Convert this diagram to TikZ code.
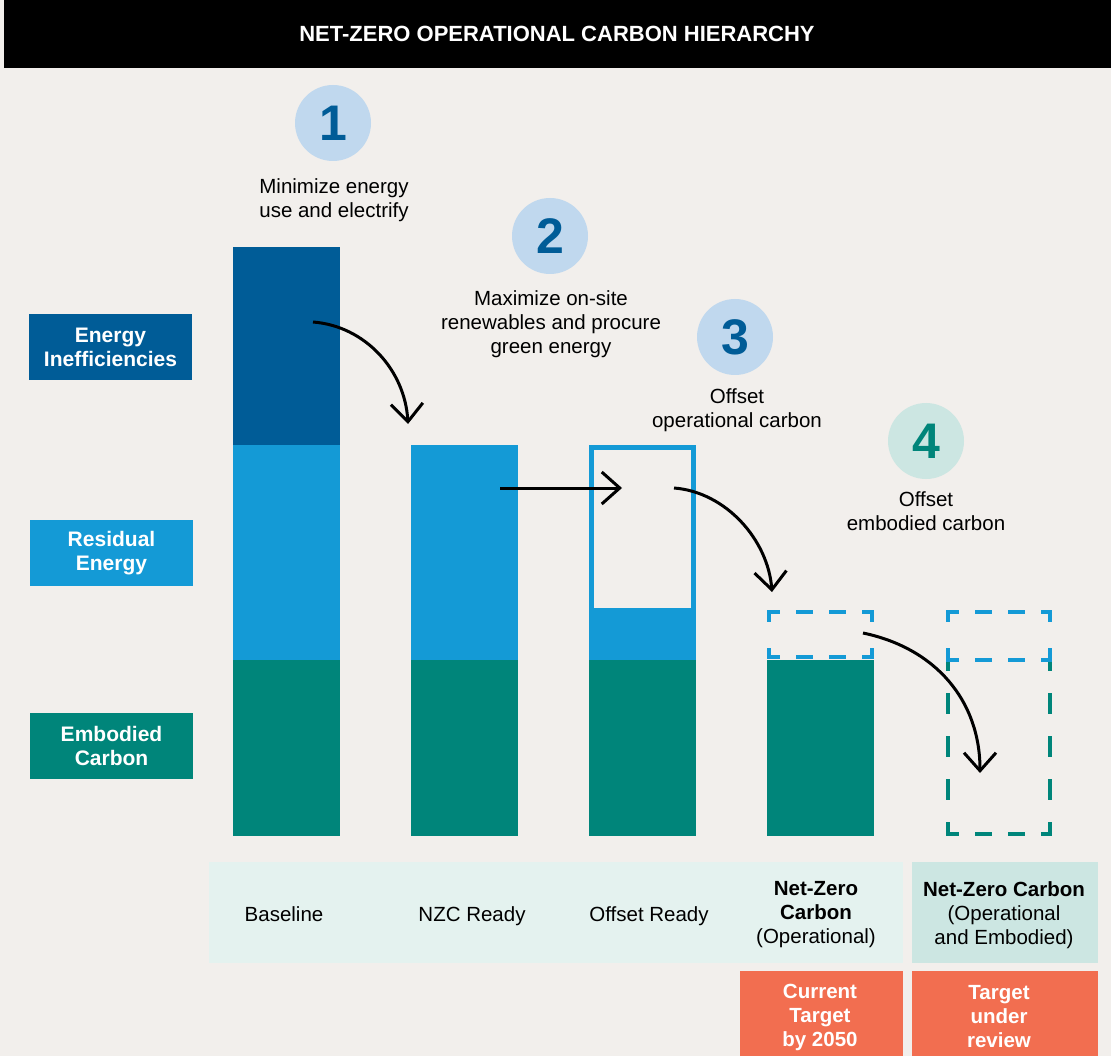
\documentclass[tikz,border=0pt]{standalone}
\usepackage{fontspec}
\setmainfont{Liberation Sans}
\usepackage{xcolor}
\usepackage{tikz}
\usetikzlibrary{arrows.meta}
\definecolor{bgcream}{RGB}{242,239,236}
\definecolor{inefblue}{RGB}{0,92,151}
\definecolor{residblue}{RGB}{20,154,214}
\definecolor{embgreen}{RGB}{0,133,122}
\definecolor{circblue}{RGB}{192,216,238}
\definecolor{circteal}{RGB}{204,230,226}
\definecolor{bandpale}{RGB}{228,242,239}
\definecolor{bandteal}{RGB}{204,230,226}
\definecolor{targetorange}{RGB}{242,110,80}

\begin{document}
\begin{tikzpicture}[x=1pt,y=-1pt]
			
			\tikzstyle{legendbox} = [minimum width=163pt,minimum height=66pt,inner sep=0pt,text=white,align=center,font=\fontsize{21}{24}\selectfont\bfseries]
			\tikzstyle{stepcircle} = [circle,minimum size=76pt,inner sep=0pt,font=\fontsize{50}{50}\selectfont\bfseries]
			\tikzstyle{steptext} = [align=center,inner sep=0pt,font=\fontsize{20.5}{24}\selectfont]
			\tikzstyle{bandlabel} = [align=center,inner sep=0pt,font=\fontsize{20.5}{24}\selectfont]
			\tikzstyle{targetlabel} = [align=center,inner sep=0pt,text=white,font=\fontsize{20.5}{24}\selectfont\bfseries]
			\tikzstyle{dashside} = [line width=4pt,line cap=rect,dash pattern=on 13pt off 20pt,dash phase=4pt]
			\tikzstyle{dashshort} = [line width=4pt,line cap=rect,dash pattern=on 8pt off 30pt]
			\tikzstyle{dashtall} = [line width=4pt,line cap=rect,dash pattern=on 17pt off 26pt,dash phase=7pt]
			\tikzstyle{flowarrow} = [line width=3pt,-{Straight Barb[length=18pt,width=32pt]}]
			
			\useasboundingbox (0,0) rectangle (1111,1056);
			\fill[bgcream] (0,0) rectangle (1111,1056);
			
			% header
			\fill[black] (4,0) rectangle (1111,68);
			\node[text=white,font=\fontsize{22}{24}\selectfont\bfseries] (title) at (557,34) {NET-ZERO OPERATIONAL CARBON HIERARCHY};
			
			% legend
			\node[legendbox,fill=inefblue] (ineff) at (110.5,347) {Energy\\Inefficiencies};
			\node[legendbox,fill=residblue] (resid) at (111.5,553) {Residual\\Energy};
			\node[legendbox,fill=embgreen] (embod) at (111.5,746) {Embodied\\Carbon};
			
			% bars
			\fill[inefblue] (233,247) rectangle (340,445);
			\fill[residblue] (233,445) rectangle (340,660);
			\fill[embgreen] (233,660) rectangle (340,836);
			
			\fill[residblue] (411,445) rectangle (518,660);
			\fill[embgreen] (411,660) rectangle (518,836);
			
			\fill[residblue] (589,445) rectangle (696,660);
			\fill[bgcream] (594,450) rectangle (691,608);
			\fill[embgreen] (589,660) rectangle (696,836);
			
			\fill[embgreen] (767,660) rectangle (874,836);
			\draw[dashside,residblue] (769,612) -- (872,612);
			\draw[dashside,residblue] (769,657) -- (872,657);
			\draw[dashshort,residblue] (769,612) -- (769,657);
			\draw[dashshort,residblue] (872,612) -- (872,657);
			
			% dashed target bar
			\draw[dashtall,embgreen] (948,834) -- (948,662);
			\draw[dashtall,embgreen] (1050,834) -- (1050,662);
			\draw[dashside,embgreen] (948,834) -- (1050,834);
			\draw[dashside,residblue] (948,612) -- (1050,612);
			\draw[dashside,residblue] (948,660) -- (1050,660);
			\draw[dashshort,residblue] (948,612) -- (948,660);
			\draw[dashshort,residblue] (1050,612) -- (1050,660);
			
			% steps
			\node[stepcircle,fill=circblue,text=inefblue] (c1) at (333,123) {1};
			\node[steptext] (t1) at (334,200) {Minimize energy\\use and electrify};
			
			\node[stepcircle,fill=circblue,text=inefblue] (c2) at (550,236) {2};
			\node[steptext] (t2) at (551,324) {Maximize on-site\\renewables and procure\\green energy};
			
			\node[stepcircle,fill=circblue,text=inefblue] (c3) at (735,337) {3};
			\node[steptext] (t3) at (737,410) {Offset\\operational carbon};
			
			\node[stepcircle,fill=circteal,text=embgreen] (c4) at (926,441) {4};
			\node[steptext] (t4) at (926,511) {Offset\\embodied carbon};
			
			% arrows
			\coordinate (a1s) at (313,322);
			\coordinate (a1e) at (408,424);
			\coordinate (a2s) at (500,488);
			\coordinate (a2e) at (622,488);
			\coordinate (a3s) at (674,488);
			\coordinate (a3e) at (772,592);
			\coordinate (a4s) at (863,633);
			\coordinate (a4e) at (980,773);
			
			\draw[flowarrow] (a1s) .. controls (365,326) and (405,370) .. (a1e);
			\draw[flowarrow] (a2s) -- (a2e);
			\draw[flowarrow] (a3s) .. controls (726,492) and (768,540) .. (a3e);
			\draw[flowarrow] (a4s) .. controls (935,648) and (980,700) .. (a4e);
			
			% bottom bands
			\fill[bandpale] (209,862) rectangle (903,963);
			\fill[bandteal] (912,862) rectangle (1098,963);
			\fill[targetorange] (740,971) rectangle (903,1056);
			\fill[targetorange] (912,971) rectangle (1098,1056);
			
			\node[bandlabel,anchor=base] (lb1) at (284,921) {Baseline};
			\node[bandlabel,anchor=base] (lb2) at (472,921) {NZC Ready};
			\node[bandlabel,anchor=base] (lb3) at (649,921) {Offset Ready};
			\node[bandlabel] (lb4) at (816,915) {\textbf{Net-Zero}\\\textbf{Carbon}\\(Operational)};
			\node[bandlabel] (lb5) at (1004,915) {\textbf{Net-Zero Carbon}\\(Operational\\and Embodied)};
			
			\node[targetlabel] (tg1) at (820,1017) {Current\\Target\\by 2050};
			\node[targetlabel] (tg2) at (999,1017) {Target\\under\\review};
			
		\end{tikzpicture}
\end{document}
